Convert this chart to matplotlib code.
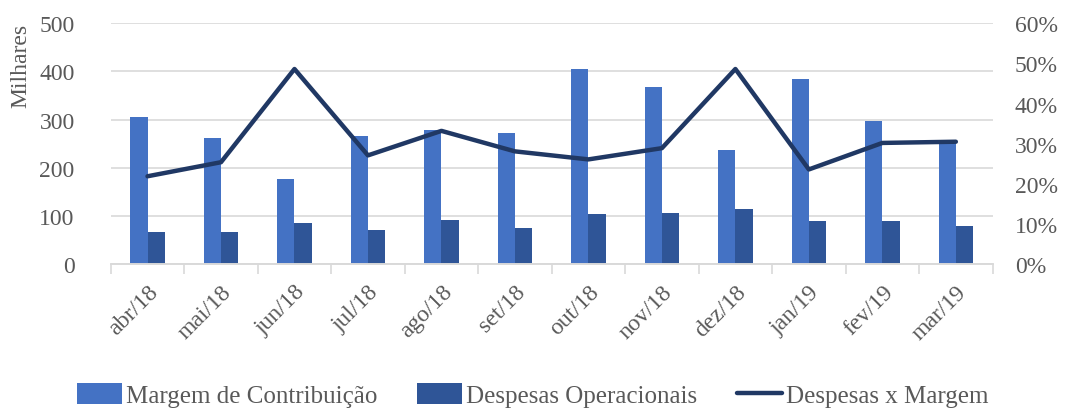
import matplotlib
matplotlib.use("Agg")
import matplotlib.pyplot as plt
import numpy as np
from matplotlib.ticker import FixedLocator, FuncFormatter

meses = ["abr/18", "mai/18", "jun/18", "jul/18", "ago/18", "set/18",
         "out/18", "nov/18", "dez/18", "jan/19", "fev/19", "mar/19"]
margem = [305, 262, 177, 265, 278, 272, 404, 368, 238, 385, 297, 253]
despesas = [67, 66, 86, 72, 92, 76, 105, 107, 115, 90, 90, 79]
razao = [21.9, 25.4, 48.6, 27.1, 33.2, 28.1, 26.1, 28.9, 48.6, 23.6, 30.2, 30.5]

plt.rcParams['font.family'] = ['Liberation Serif', 'DejaVu Serif']
cinza = "#595959"
fs = 17

fig = plt.figure(figsize=(10.65, 4.1), dpi=100)
ax = fig.add_axes([0.104, 0.353, 0.828, 0.588])
ax2 = ax.twinx()

x = np.arange(len(meses))
w = 0.235
ax.bar(x - w / 2, margem, w, color="#4472C4", label="Margem de Contribuição", zorder=2)
ax.bar(x + w / 2, despesas, w, color="#2F5597", label="Despesas Operacionais", zorder=2)
ax2.plot(x, razao, color="#203864", lw=3.2, solid_capstyle="round",
         label="Despesas x Margem", zorder=3)

ax.set_xlim(-0.5, len(meses) - 0.5)
ax.set_ylim(0, 500)
ax.set_yticks(range(0, 501, 100))
ax2.set_ylim(0, 60)
ax2.set_yticks(range(0, 61, 10))
ax2.yaxis.set_major_formatter(FuncFormatter(lambda v, p: "%d%%" % v))

ax.set_xticks(x)
ax.set_xticklabels(meses, rotation=45, ha="right", rotation_mode="anchor")
ax.xaxis.set_minor_locator(FixedLocator(np.arange(-0.5, len(meses), 1)))
ax.tick_params(axis="x", which="major", length=0, pad=12, labelsize=fs, labelcolor=cinza)
ax.tick_params(axis="x", which="minor", length=7, color="#D9D9D9", width=1.2)
ax.tick_params(axis="y", length=0, labelsize=fs, labelcolor=cinza, pad=26)
ax2.tick_params(axis="y", length=0, labelsize=fs, labelcolor=cinza, pad=16)

ax.grid(axis="y", color="#D9D9D9", lw=1.2, zorder=0)
ax.set_axisbelow(True)
for a in (ax, ax2):
    for s in ["top", "left", "right"]:
        a.spines[s].set_visible(False)
    a.spines["bottom"].set_color("#D9D9D9")
    a.spines["bottom"].set_linewidth(1.2)

ax.set_ylabel("Milhares", fontsize=fs, color=cinza)
ax.yaxis.set_label_coords(-0.09, 0.826)
ax.set_zorder(ax2.get_zorder() - 1)
ax2.patch.set_visible(False)

h1, l1 = ax.get_legend_handles_labels()
h2, l2 = ax2.get_legend_handles_labels()
fig.legend(h1 + h2, l1 + l2, loc="lower center", ncol=3, frameon=False,
           fontsize=18, labelcolor=cinza, bbox_to_anchor=(0.5, -0.05),
           handlelength=1.8, handleheight=0.9, handletextpad=0.15, columnspacing=1.6)

fig.savefig("out.png", dpi=100)
